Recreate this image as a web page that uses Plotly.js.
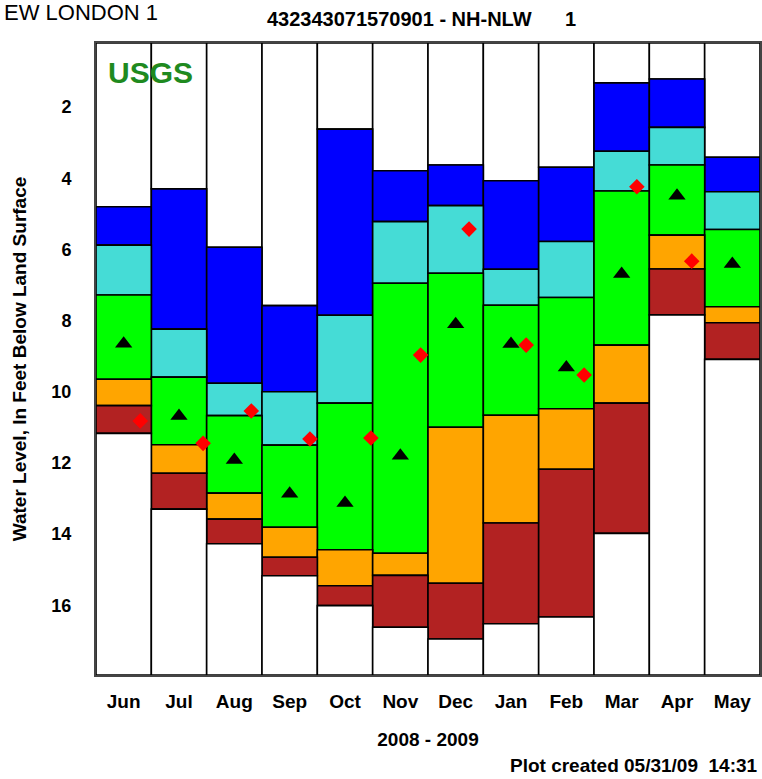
<!DOCTYPE html>
<html><head><meta charset="utf-8">
<script src="https://cdn.plot.ly/plotly-3.0.1.min.js"></script>
<style>body{margin:0;background:#fff}#chart{width:762px;height:779px}</style>
</head><body><div id="chart"></div>
<script>
// Month categories
const months = ["Jun","Jul","Aug","Sep","Oct","Nov","Dec","Jan","Feb","Mar","Apr","May"];
const daysInMonth = [30,31,31,30,31,30,31,31,28,31,30,31];
// Percentile boundaries (feet below land surface)
const blueTop      = [4.80, 4.30, 5.94, 7.58, 2.62, 3.79, 3.63, 4.07, 3.69, 1.32, 1.21, 3.41];
const cyanTop      = [5.88, 8.24, 9.76, 10.00, 7.85, 5.22, 4.77, 6.56, 5.78, 3.24, 2.57, 4.38];
const greenTop     = [7.28, 9.59, 10.67, 11.50, 10.32, 6.95, 6.67, 7.57, 7.35, 4.36, 3.63, 5.44];
const orangeTop    = [9.65, 11.49, 12.85, 13.81, 14.44, 14.54, 11.00, 10.66, 10.48, 8.69, 5.60, 7.61];
const redTop       = [10.39, 12.29, 13.58, 14.65, 15.45, 15.16, 15.38, 13.69, 12.18, 10.32, 6.55, 8.06];
const redBottom    = [11.17, 13.30, 14.27, 15.17, 16.01, 16.62, 16.95, 16.52, 16.33, 13.98, 7.84, 9.09];
// Median monthly levels
const median = [8.65, 10.68, 11.92, 12.87, 13.13, 11.80, 8.10, 8.66, 9.32, 6.69, 4.49, 6.41];
// Current measurements (month index, day of month, level)
const curMonth = [0,1,2,3,4,5,6,7,8,9,10];
const curDay   = [24,29,25,26,30,26,23,24,23,24,23];
const curLevel = [10.82, 11.45, 10.54, 11.33, 11.30, 8.97, 5.43, 8.69, 9.53, 4.24, 6.33];

const yTop = 0.2, yBottom = 17.96;
const xIdx = months.map((m,i)=>i);
const outline = {color:'#000', width:1.6};

function seg(tops, bottoms, color){
  return {type:'bar', x:xIdx, base:tops, y:tops.map((t,i)=>bottoms[i]-t),
    width:1, marker:{color:color, line:outline}, hoverinfo:'skip', showlegend:false};
}
const traces = [
  seg(months.map(()=>yTop), blueTop, '#ffffff'),
  seg(blueTop, cyanTop, '#0000ff'),
  seg(cyanTop, greenTop, '#45dcd6'),
  seg(greenTop, orangeTop, '#00ff00'),
  seg(orangeTop, redTop, '#ffa500'),
  seg(redTop, redBottom, '#b22222'),
  seg(redBottom, months.map(()=>yBottom), '#ffffff'),
  {type:'scatter', mode:'markers', x:xIdx, y:median,
   marker:{symbol:'triangle-up', size:15, color:'#000'}, showlegend:false, hoverinfo:'skip'},
  {type:'scatter', mode:'markers',
   x:curMonth.map((m,k)=>m-0.5+curDay[k]/daysInMonth[m]), y:curLevel,
   marker:{symbol:'diamond', size:12, color:'#ff0000'}, showlegend:false, hoverinfo:'skip'}
];

const fnt = 'Liberation Sans, Arial, sans-serif';
const layout = {
  width:762, height:779,
  margin:{l:96, r:2, t:43, b:104},
  paper_bgcolor:'#fff', plot_bgcolor:'#fff',
  barmode:'overlay', bargap:0,
  font:{family:fnt, color:'#000'},
  xaxis:{range:[-0.5,11.5], tickvals:xIdx, ticktext:months, showgrid:false, zeroline:false,
    ticks:'outside', ticklen:8, tickcolor:'rgba(0,0,0,0)',
    tickfont:{size:19, family:fnt, weight:'bold'},
    showline:true, mirror:true, linecolor:'#444', linewidth:2,
    title:{text:'<b>2008 - 2009</b>', font:{size:19, family:fnt}, standoff:22}},
  yaxis:{range:[yBottom,yTop], tickvals:[2,4,6,8,10,12,14,16], showgrid:false, zeroline:false,
    ticks:'outside', ticklen:19, tickcolor:'rgba(0,0,0,0)',
    tickfont:{size:18, family:fnt, weight:'bold'},
    showline:true, mirror:true, linecolor:'#444', linewidth:2,
    title:{text:'<b>Water Level, In Feet Below Land Surface</b>', font:{size:19, family:fnt}, standoff:20}},
  annotations:[
    {xref:'paper', yref:'paper', x:(2-96)/664, y:1+(43-13)/632, xanchor:'left', yanchor:'middle',
     text:'EW LONDON 1', showarrow:false, font:{size:22, family:fnt}},
    {xref:'paper', yref:'paper', x:(421-96)/664, y:1+(43-19)/632, xanchor:'center', yanchor:'middle',
     text:'<b>432343071570901 - NH-NLW&nbsp;&nbsp;&nbsp;&nbsp;&nbsp;&nbsp;1</b>', showarrow:false, font:{size:20, family:fnt}},
    {xref:'paper', yref:'paper', x:(106-96)/664, y:1-(72-43)/632, xanchor:'left', yanchor:'middle',
     text:'<b>USGS</b>', showarrow:false, font:{size:30, family:fnt, color:'#1f8a1f'}},
    {xref:'paper', yref:'paper', x:1, y:-(765-675)/632, xanchor:'right', yanchor:'middle',
     text:'<b>Plot created 05/31/09&nbsp;&nbsp;14:31</b>', showarrow:false, font:{size:19, family:fnt}}
  ]
};
Plotly.newPlot('chart', traces, layout, {staticPlot:true, displayModeBar:false});
</script></body></html>
